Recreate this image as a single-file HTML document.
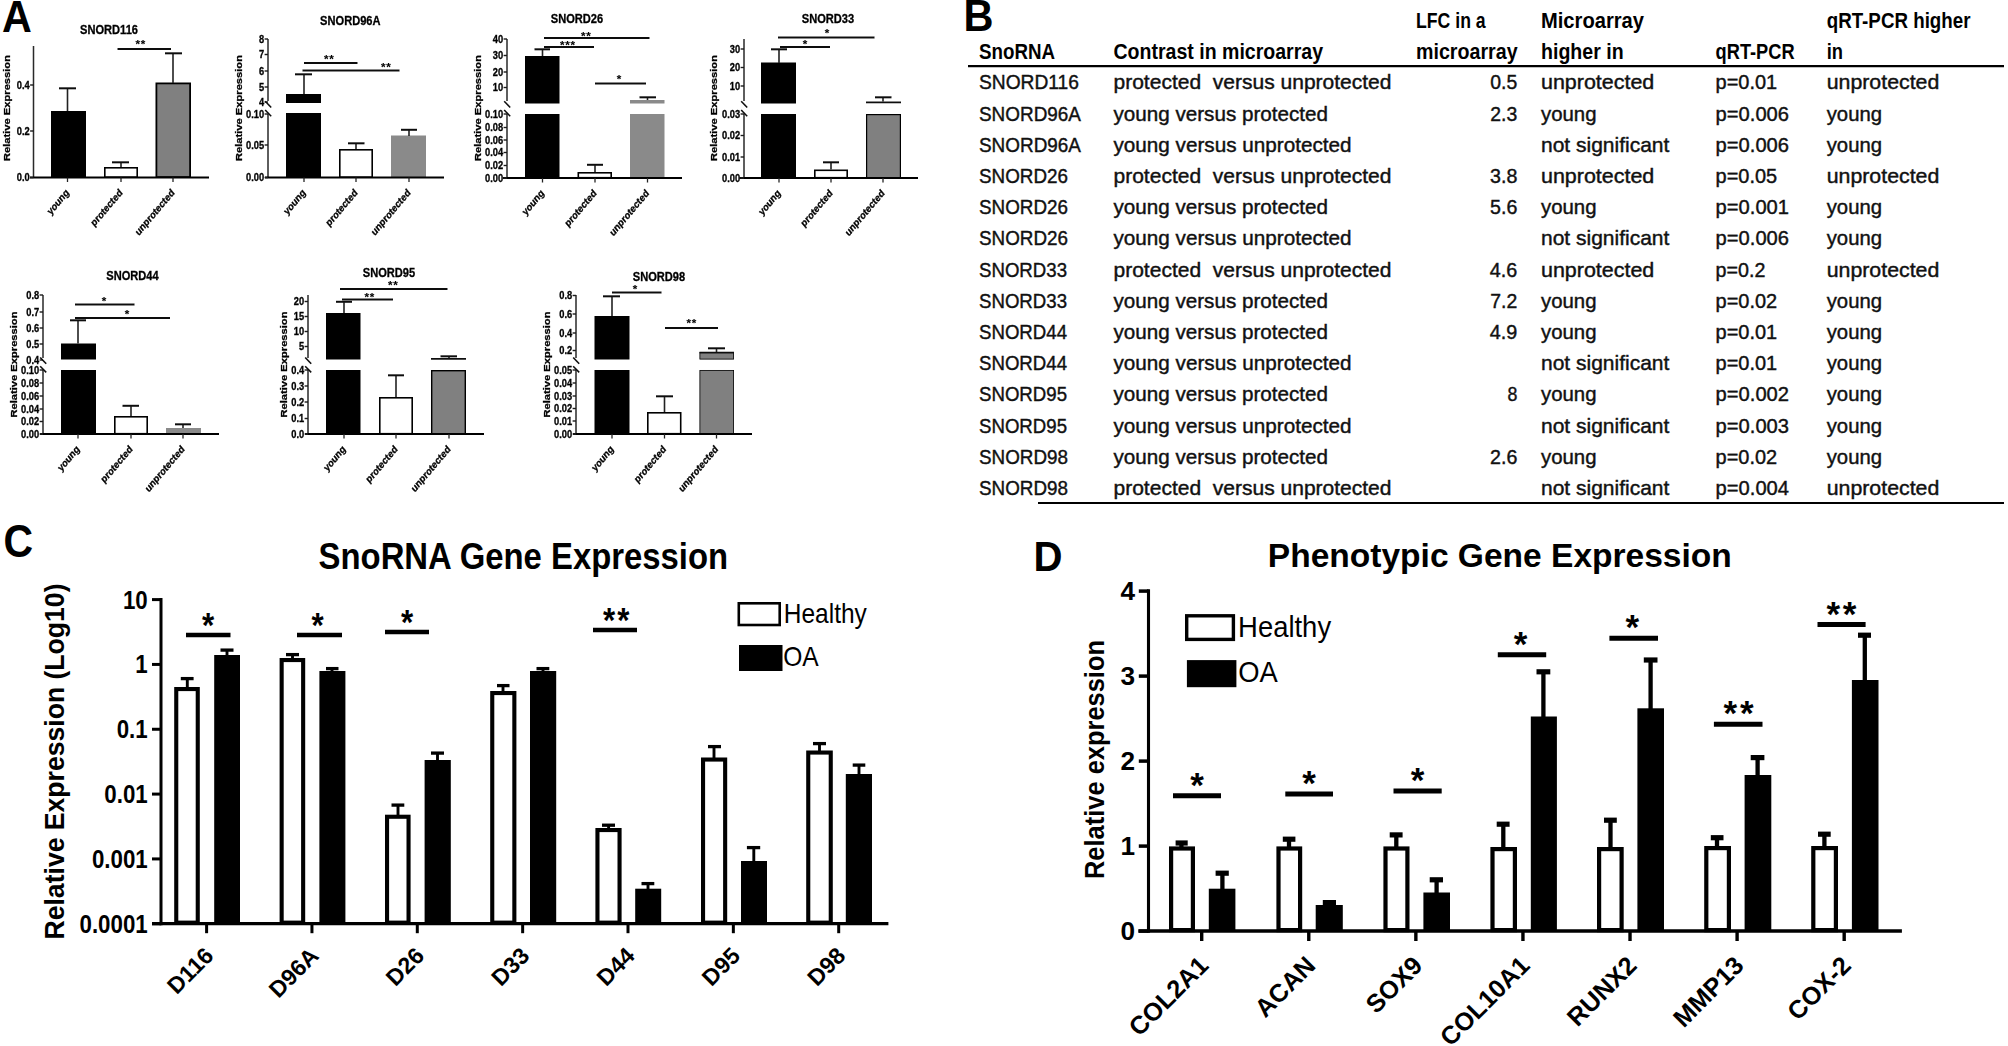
<!DOCTYPE html>
<html lang="en"><head><meta charset="utf-8"><title>SnoRNA figure</title>
<style>html,body{margin:0;padding:0;background:#fff}svg{display:block}text{font-family:"Liberation Sans",sans-serif}#panelA text{stroke:#000;stroke-width:.28px}</style></head><body>
<svg width="2008" height="1046" viewBox="0 0 2008 1046">
<rect width="2008" height="1046" fill="#fff"/>
<defs><filter id="blurA" x="0" y="0" width="960" height="520" filterUnits="userSpaceOnUse"><feGaussianBlur stdDeviation="0.45"/></filter></defs>
<text transform="translate(2.1,32) scale(0.95,1)" font-size="43.5" font-weight="bold">A</text>
<g id="panelA" filter="url(#blurA)">
<rect x="51" y="111" width="35" height="67" fill="#000"/>
<rect x="104.8" y="167.8" width="32.4" height="9.4" fill="#fff" stroke="#000" stroke-width="1.6"/>
<rect x="156.4" y="83.4" width="33.7" height="93.7" fill="#808080" stroke="#000" stroke-width="1.8"/>
<line x1="67.5" y1="88" x2="67.5" y2="111" stroke="#222" stroke-width="1.6"/>
<line x1="59" y1="88.3" x2="76" y2="88.3" stroke="#111" stroke-width="2"/>
<line x1="121" y1="162" x2="121" y2="167" stroke="#222" stroke-width="1.6"/>
<line x1="112" y1="162.3" x2="129" y2="162.3" stroke="#111" stroke-width="2"/>
<line x1="173" y1="53" x2="173" y2="83" stroke="#222" stroke-width="1.6"/>
<line x1="165" y1="53.3" x2="182" y2="53.3" stroke="#111" stroke-width="2"/>
<line x1="33.5" y1="46" x2="33.5" y2="177.5" stroke="#2a2a2a" stroke-width="1.5"/>
<line x1="30" y1="177.5" x2="209" y2="177.5" stroke="#000" stroke-width="1.9"/>
<line x1="30.1" y1="177.5" x2="33.5" y2="177.5" stroke="#1a1a1a" stroke-width="1.4"/>
<text transform="translate(29.7,181.4) scale(1,1.18)" font-size="9.3" text-anchor="end" font-weight="bold">0.0</text>
<line x1="30.1" y1="131" x2="33.5" y2="131" stroke="#1a1a1a" stroke-width="1.4"/>
<text transform="translate(29.7,134.9) scale(1,1.18)" font-size="9.3" text-anchor="end" font-weight="bold">0.2</text>
<line x1="30.1" y1="85" x2="33.5" y2="85" stroke="#1a1a1a" stroke-width="1.4"/>
<text transform="translate(29.7,88.9) scale(1,1.18)" font-size="9.3" text-anchor="end" font-weight="bold">0.4</text>
<line x1="67.5" y1="177.5" x2="67.5" y2="182" stroke="#222" stroke-width="1.3"/>
<text transform="translate(69.5,193.3) scale(1,1.18) rotate(-45)" font-size="8.9" text-anchor="end" font-weight="bold">young</text>
<line x1="121" y1="177.5" x2="121" y2="182" stroke="#222" stroke-width="1.3"/>
<text transform="translate(123,193.3) scale(1,1.18) rotate(-45)" font-size="8.9" text-anchor="end" font-weight="bold">protected</text>
<line x1="173" y1="177.5" x2="173" y2="182" stroke="#222" stroke-width="1.3"/>
<text transform="translate(175,193.3) scale(1,1.18) rotate(-45)" font-size="8.9" text-anchor="end" font-weight="bold">unprotected</text>
<line x1="117.5" y1="49" x2="171" y2="49" stroke="#111" stroke-width="2.1"/>
<text transform="translate(140.8,47.7)" font-size="11.6" text-anchor="middle" font-weight="bold" letter-spacing="0.7" style="stroke-width:.1px">**</text>
<text transform="translate(109,34) scale(1,1.18)" font-size="11.1" text-anchor="middle" font-weight="bold">SNORD116</text>
<text transform="translate(10.3,108) rotate(-90)" font-size="9.6" text-anchor="middle" textLength="106" lengthAdjust="spacingAndGlyphs" font-weight="bold">Relative Expression</text>
<rect x="286" y="94" width="35" height="9" fill="#000"/>
<rect x="286" y="113" width="35" height="65" fill="#000"/>
<rect x="339.8" y="149.8" width="32.4" height="27.4" fill="#fff" stroke="#000" stroke-width="1.6"/>
<rect x="391" y="135.5" width="35" height="42.5" fill="#8a8a8a"/>
<line x1="304" y1="74" x2="304" y2="94" stroke="#222" stroke-width="1.6"/>
<line x1="295" y1="74.3" x2="312" y2="74.3" stroke="#111" stroke-width="2"/>
<line x1="356" y1="143" x2="356" y2="149" stroke="#222" stroke-width="1.6"/>
<line x1="348" y1="143.3" x2="364.5" y2="143.3" stroke="#111" stroke-width="2"/>
<line x1="409" y1="129.5" x2="409" y2="136" stroke="#222" stroke-width="1.6"/>
<line x1="401" y1="129.8" x2="417" y2="129.8" stroke="#111" stroke-width="2"/>
<line x1="268" y1="39" x2="268" y2="101" stroke="#2a2a2a" stroke-width="1.5"/>
<line x1="268" y1="114" x2="268" y2="177.5" stroke="#2a2a2a" stroke-width="1.5"/>
<line x1="265" y1="177.5" x2="444" y2="177.5" stroke="#000" stroke-width="1.9"/>
<line x1="264.6" y1="39" x2="268" y2="39" stroke="#1a1a1a" stroke-width="1.4"/>
<text transform="translate(264.2,42.9) scale(1,1.18)" font-size="9.3" text-anchor="end" font-weight="bold">8</text>
<line x1="264.6" y1="54.5" x2="268" y2="54.5" stroke="#1a1a1a" stroke-width="1.4"/>
<text transform="translate(264.2,58.4) scale(1,1.18)" font-size="9.3" text-anchor="end" font-weight="bold">7</text>
<line x1="264.6" y1="71" x2="268" y2="71" stroke="#1a1a1a" stroke-width="1.4"/>
<text transform="translate(264.2,74.9) scale(1,1.18)" font-size="9.3" text-anchor="end" font-weight="bold">6</text>
<line x1="264.6" y1="87" x2="268" y2="87" stroke="#1a1a1a" stroke-width="1.4"/>
<text transform="translate(264.2,90.9) scale(1,1.18)" font-size="9.3" text-anchor="end" font-weight="bold">5</text>
<line x1="264.6" y1="102" x2="268" y2="102" stroke="#1a1a1a" stroke-width="1.4"/>
<text transform="translate(264.2,105.9) scale(1,1.18)" font-size="9.3" text-anchor="end" font-weight="bold">4</text>
<line x1="264.6" y1="114" x2="268" y2="114" stroke="#1a1a1a" stroke-width="1.4"/>
<text transform="translate(264.2,117.9) scale(1,1.18)" font-size="9.3" text-anchor="end" font-weight="bold">0.10</text>
<line x1="264.6" y1="145" x2="268" y2="145" stroke="#1a1a1a" stroke-width="1.4"/>
<text transform="translate(264.2,148.9) scale(1,1.18)" font-size="9.3" text-anchor="end" font-weight="bold">0.05</text>
<line x1="264.6" y1="177.5" x2="268" y2="177.5" stroke="#1a1a1a" stroke-width="1.4"/>
<text transform="translate(264.2,181.4) scale(1,1.18)" font-size="9.3" text-anchor="end" font-weight="bold">0.00</text>
<line x1="265.2" y1="101.3" x2="271.2" y2="107.5" stroke="#111" stroke-width="1.6"/>
<line x1="265.2" y1="110" x2="271.2" y2="116.2" stroke="#111" stroke-width="1.6"/>
<line x1="304" y1="177.5" x2="304" y2="182" stroke="#222" stroke-width="1.3"/>
<text transform="translate(306,193.3) scale(1,1.18) rotate(-45)" font-size="8.9" text-anchor="end" font-weight="bold">young</text>
<line x1="356" y1="177.5" x2="356" y2="182" stroke="#222" stroke-width="1.3"/>
<text transform="translate(358,193.3) scale(1,1.18) rotate(-45)" font-size="8.9" text-anchor="end" font-weight="bold">protected</text>
<line x1="409" y1="177.5" x2="409" y2="182" stroke="#222" stroke-width="1.3"/>
<text transform="translate(411,193.3) scale(1,1.18) rotate(-45)" font-size="8.9" text-anchor="end" font-weight="bold">unprotected</text>
<line x1="304" y1="63" x2="357.5" y2="63" stroke="#111" stroke-width="2.1"/>
<text transform="translate(329.3,63.2)" font-size="11.6" text-anchor="middle" font-weight="bold" letter-spacing="0.7" style="stroke-width:.1px">**</text>
<line x1="302.5" y1="70.5" x2="399.5" y2="70.5" stroke="#111" stroke-width="2.1"/>
<text transform="translate(386.3,70.7)" font-size="11.6" text-anchor="middle" font-weight="bold" letter-spacing="0.7" style="stroke-width:.1px">**</text>
<text transform="translate(350.3,24.8) scale(1,1.18)" font-size="11.1" text-anchor="middle" font-weight="bold">SNORD96A</text>
<text transform="translate(241.8,108) rotate(-90)" font-size="9.6" text-anchor="middle" textLength="106" lengthAdjust="spacingAndGlyphs" font-weight="bold">Relative Expression</text>
<rect x="525" y="56" width="34.5" height="47.5" fill="#000"/>
<rect x="525" y="114" width="34.5" height="64.5" fill="#000"/>
<rect x="578.3" y="172.8" width="32.9" height="4.9" fill="#fff" stroke="#000" stroke-width="1.6"/>
<rect x="630" y="100" width="34.5" height="3.5" fill="#8a8a8a"/>
<rect x="630" y="114" width="34.5" height="64.5" fill="#8a8a8a"/>
<line x1="542.5" y1="49" x2="542.5" y2="56" stroke="#222" stroke-width="1.6"/>
<line x1="534.5" y1="49.3" x2="550" y2="49.3" stroke="#111" stroke-width="2"/>
<line x1="595" y1="164.5" x2="595" y2="172" stroke="#222" stroke-width="1.6"/>
<line x1="587" y1="164.8" x2="603" y2="164.8" stroke="#111" stroke-width="2"/>
<line x1="647.5" y1="97" x2="647.5" y2="100" stroke="#222" stroke-width="1.6"/>
<line x1="639.5" y1="97.3" x2="656" y2="97.3" stroke="#111" stroke-width="2"/>
<line x1="507" y1="39" x2="507" y2="101" stroke="#2a2a2a" stroke-width="1.5"/>
<line x1="507" y1="114" x2="507" y2="178" stroke="#2a2a2a" stroke-width="1.5"/>
<line x1="503" y1="178" x2="682" y2="178" stroke="#000" stroke-width="1.9"/>
<line x1="503.6" y1="39" x2="507" y2="39" stroke="#1a1a1a" stroke-width="1.4"/>
<text transform="translate(503.2,42.9) scale(1,1.18)" font-size="9.3" text-anchor="end" font-weight="bold">40</text>
<line x1="503.6" y1="55.5" x2="507" y2="55.5" stroke="#1a1a1a" stroke-width="1.4"/>
<text transform="translate(503.2,59.4) scale(1,1.18)" font-size="9.3" text-anchor="end" font-weight="bold">30</text>
<line x1="503.6" y1="72" x2="507" y2="72" stroke="#1a1a1a" stroke-width="1.4"/>
<text transform="translate(503.2,75.9) scale(1,1.18)" font-size="9.3" text-anchor="end" font-weight="bold">20</text>
<line x1="503.6" y1="87.5" x2="507" y2="87.5" stroke="#1a1a1a" stroke-width="1.4"/>
<text transform="translate(503.2,91.4) scale(1,1.18)" font-size="9.3" text-anchor="end" font-weight="bold">10</text>
<line x1="503.6" y1="114" x2="507" y2="114" stroke="#1a1a1a" stroke-width="1.4"/>
<text transform="translate(503.2,117.9) scale(1,1.18)" font-size="9.3" text-anchor="end" font-weight="bold">0.10</text>
<line x1="503.6" y1="127.5" x2="507" y2="127.5" stroke="#1a1a1a" stroke-width="1.4"/>
<text transform="translate(503.2,131.4) scale(1,1.18)" font-size="9.3" text-anchor="end" font-weight="bold">0.08</text>
<line x1="503.6" y1="140" x2="507" y2="140" stroke="#1a1a1a" stroke-width="1.4"/>
<text transform="translate(503.2,143.9) scale(1,1.18)" font-size="9.3" text-anchor="end" font-weight="bold">0.06</text>
<line x1="503.6" y1="152.5" x2="507" y2="152.5" stroke="#1a1a1a" stroke-width="1.4"/>
<text transform="translate(503.2,156.4) scale(1,1.18)" font-size="9.3" text-anchor="end" font-weight="bold">0.04</text>
<line x1="503.6" y1="165.5" x2="507" y2="165.5" stroke="#1a1a1a" stroke-width="1.4"/>
<text transform="translate(503.2,169.4) scale(1,1.18)" font-size="9.3" text-anchor="end" font-weight="bold">0.02</text>
<line x1="503.6" y1="178" x2="507" y2="178" stroke="#1a1a1a" stroke-width="1.4"/>
<text transform="translate(503.2,181.9) scale(1,1.18)" font-size="9.3" text-anchor="end" font-weight="bold">0.00</text>
<line x1="504.2" y1="101.3" x2="510.2" y2="107.5" stroke="#111" stroke-width="1.6"/>
<line x1="504.2" y1="110" x2="510.2" y2="116.2" stroke="#111" stroke-width="1.6"/>
<line x1="542.5" y1="178" x2="542.5" y2="182.5" stroke="#222" stroke-width="1.3"/>
<text transform="translate(544.5,193.8) scale(1,1.18) rotate(-45)" font-size="8.9" text-anchor="end" font-weight="bold">young</text>
<line x1="595" y1="178" x2="595" y2="182.5" stroke="#222" stroke-width="1.3"/>
<text transform="translate(597,193.8) scale(1,1.18) rotate(-45)" font-size="8.9" text-anchor="end" font-weight="bold">protected</text>
<line x1="647.5" y1="178" x2="647.5" y2="182.5" stroke="#222" stroke-width="1.3"/>
<text transform="translate(649.5,193.8) scale(1,1.18) rotate(-45)" font-size="8.9" text-anchor="end" font-weight="bold">unprotected</text>
<line x1="544" y1="38" x2="649.5" y2="38" stroke="#111" stroke-width="2.1"/>
<text transform="translate(586.3,39.7)" font-size="11.6" text-anchor="middle" font-weight="bold" letter-spacing="0.7" style="stroke-width:.1px">**</text>
<line x1="544" y1="47" x2="594" y2="47" stroke="#111" stroke-width="2.1"/>
<text transform="translate(567.8,48.7)" font-size="11.6" text-anchor="middle" font-weight="bold" letter-spacing="0.7" style="stroke-width:.1px">***</text>
<line x1="595" y1="83.5" x2="646" y2="83.5" stroke="#111" stroke-width="2.1"/>
<text transform="translate(619,82.7)" font-size="11.6" text-anchor="middle" font-weight="bold" style="stroke-width:.1px">*</text>
<text transform="translate(577,23) scale(1,1.18)" font-size="11.1" text-anchor="middle" font-weight="bold">SNORD26</text>
<text transform="translate(480.8,108) rotate(-90)" font-size="9.6" text-anchor="middle" textLength="106" lengthAdjust="spacingAndGlyphs" font-weight="bold">Relative Expression</text>
<rect x="761" y="62.5" width="35" height="41" fill="#000"/>
<rect x="761" y="114" width="35" height="64.5" fill="#000"/>
<rect x="814.8" y="170.3" width="32.4" height="7.4" fill="#fff" stroke="#000" stroke-width="1.6"/>
<rect x="866.6" y="114.6" width="33.8" height="63.3" fill="#808080" stroke="#000" stroke-width="1.2"/>
<line x1="779" y1="49" x2="779" y2="63" stroke="#222" stroke-width="1.6"/>
<line x1="771" y1="49.3" x2="787" y2="49.3" stroke="#111" stroke-width="2"/>
<line x1="831" y1="162" x2="831" y2="169.5" stroke="#222" stroke-width="1.6"/>
<line x1="823" y1="162.3" x2="839" y2="162.3" stroke="#111" stroke-width="2"/>
<line x1="883" y1="97" x2="883" y2="101.5" stroke="#222" stroke-width="1.6"/>
<line x1="875" y1="97.3" x2="891.5" y2="97.3" stroke="#111" stroke-width="2"/>
<line x1="744" y1="39" x2="744" y2="101" stroke="#2a2a2a" stroke-width="1.5"/>
<line x1="744" y1="114" x2="744" y2="178" stroke="#2a2a2a" stroke-width="1.5"/>
<line x1="739.5" y1="178" x2="918" y2="178" stroke="#000" stroke-width="1.9"/>
<line x1="740.6" y1="49" x2="744" y2="49" stroke="#1a1a1a" stroke-width="1.4"/>
<text transform="translate(740.2,52.9) scale(1,1.18)" font-size="9.3" text-anchor="end" font-weight="bold">30</text>
<line x1="740.6" y1="67.5" x2="744" y2="67.5" stroke="#1a1a1a" stroke-width="1.4"/>
<text transform="translate(740.2,71.4) scale(1,1.18)" font-size="9.3" text-anchor="end" font-weight="bold">20</text>
<line x1="740.6" y1="86" x2="744" y2="86" stroke="#1a1a1a" stroke-width="1.4"/>
<text transform="translate(740.2,89.9) scale(1,1.18)" font-size="9.3" text-anchor="end" font-weight="bold">10</text>
<line x1="740.6" y1="114" x2="744" y2="114" stroke="#1a1a1a" stroke-width="1.4"/>
<text transform="translate(740.2,117.9) scale(1,1.18)" font-size="9.3" text-anchor="end" font-weight="bold">0.03</text>
<line x1="740.6" y1="135.5" x2="744" y2="135.5" stroke="#1a1a1a" stroke-width="1.4"/>
<text transform="translate(740.2,139.4) scale(1,1.18)" font-size="9.3" text-anchor="end" font-weight="bold">0.02</text>
<line x1="740.6" y1="157" x2="744" y2="157" stroke="#1a1a1a" stroke-width="1.4"/>
<text transform="translate(740.2,160.9) scale(1,1.18)" font-size="9.3" text-anchor="end" font-weight="bold">0.01</text>
<line x1="740.6" y1="178" x2="744" y2="178" stroke="#1a1a1a" stroke-width="1.4"/>
<text transform="translate(740.2,181.9) scale(1,1.18)" font-size="9.3" text-anchor="end" font-weight="bold">0.00</text>
<line x1="741.2" y1="101.3" x2="747.2" y2="107.5" stroke="#111" stroke-width="1.6"/>
<line x1="741.2" y1="110" x2="747.2" y2="116.2" stroke="#111" stroke-width="1.6"/>
<line x1="779" y1="178" x2="779" y2="182.5" stroke="#222" stroke-width="1.3"/>
<text transform="translate(781,193.8) scale(1,1.18) rotate(-45)" font-size="8.9" text-anchor="end" font-weight="bold">young</text>
<line x1="831" y1="178" x2="831" y2="182.5" stroke="#222" stroke-width="1.3"/>
<text transform="translate(833,193.8) scale(1,1.18) rotate(-45)" font-size="8.9" text-anchor="end" font-weight="bold">protected</text>
<line x1="883" y1="178" x2="883" y2="182.5" stroke="#222" stroke-width="1.3"/>
<text transform="translate(885,193.8) scale(1,1.18) rotate(-45)" font-size="8.9" text-anchor="end" font-weight="bold">unprotected</text>
<line x1="778" y1="37.5" x2="874.5" y2="37.5" stroke="#111" stroke-width="2.1"/>
<text transform="translate(827,36.7)" font-size="11.6" text-anchor="middle" font-weight="bold" style="stroke-width:.1px">*</text>
<line x1="780" y1="47" x2="830" y2="47" stroke="#111" stroke-width="2.1"/>
<text transform="translate(805,47.7)" font-size="11.6" text-anchor="middle" font-weight="bold" style="stroke-width:.1px">*</text>
<text transform="translate(828,23) scale(1,1.18)" font-size="11.1" text-anchor="middle" font-weight="bold">SNORD33</text>
<text transform="translate(716.8,108) rotate(-90)" font-size="9.6" text-anchor="middle" textLength="106" lengthAdjust="spacingAndGlyphs" font-weight="bold">Relative Expression</text>
<rect x="61" y="343.5" width="35" height="16" fill="#000"/>
<rect x="61" y="370" width="35" height="64.5" fill="#000"/>
<rect x="114.8" y="416.8" width="32.4" height="16.9" fill="#fff" stroke="#000" stroke-width="1.6"/>
<rect x="166" y="428" width="35" height="6.5" fill="#8a8a8a"/>
<line x1="78" y1="320" x2="78" y2="343.5" stroke="#222" stroke-width="1.6"/>
<line x1="70" y1="320.3" x2="86" y2="320.3" stroke="#111" stroke-width="2"/>
<line x1="131" y1="405.5" x2="131" y2="416" stroke="#222" stroke-width="1.6"/>
<line x1="122.5" y1="405.8" x2="139" y2="405.8" stroke="#111" stroke-width="2"/>
<line x1="183" y1="424" x2="183" y2="428" stroke="#222" stroke-width="1.6"/>
<line x1="175" y1="424.3" x2="191" y2="424.3" stroke="#111" stroke-width="2"/>
<line x1="43" y1="295" x2="43" y2="358" stroke="#2a2a2a" stroke-width="1.5"/>
<line x1="43" y1="370" x2="43" y2="434" stroke="#2a2a2a" stroke-width="1.5"/>
<line x1="40" y1="434" x2="219" y2="434" stroke="#000" stroke-width="1.9"/>
<line x1="39.6" y1="295" x2="43" y2="295" stroke="#1a1a1a" stroke-width="1.4"/>
<text transform="translate(39.2,298.9) scale(1,1.18)" font-size="9.3" text-anchor="end" font-weight="bold">0.8</text>
<line x1="39.6" y1="312" x2="43" y2="312" stroke="#1a1a1a" stroke-width="1.4"/>
<text transform="translate(39.2,315.9) scale(1,1.18)" font-size="9.3" text-anchor="end" font-weight="bold">0.7</text>
<line x1="39.6" y1="328" x2="43" y2="328" stroke="#1a1a1a" stroke-width="1.4"/>
<text transform="translate(39.2,331.9) scale(1,1.18)" font-size="9.3" text-anchor="end" font-weight="bold">0.6</text>
<line x1="39.6" y1="344" x2="43" y2="344" stroke="#1a1a1a" stroke-width="1.4"/>
<text transform="translate(39.2,347.9) scale(1,1.18)" font-size="9.3" text-anchor="end" font-weight="bold">0.5</text>
<line x1="39.6" y1="360" x2="43" y2="360" stroke="#1a1a1a" stroke-width="1.4"/>
<text transform="translate(39.2,363.9) scale(1,1.18)" font-size="9.3" text-anchor="end" font-weight="bold">0.4</text>
<line x1="39.6" y1="370" x2="43" y2="370" stroke="#1a1a1a" stroke-width="1.4"/>
<text transform="translate(39.2,373.9) scale(1,1.18)" font-size="9.3" text-anchor="end" font-weight="bold">0.10</text>
<line x1="39.6" y1="383" x2="43" y2="383" stroke="#1a1a1a" stroke-width="1.4"/>
<text transform="translate(39.2,386.9) scale(1,1.18)" font-size="9.3" text-anchor="end" font-weight="bold">0.08</text>
<line x1="39.6" y1="396" x2="43" y2="396" stroke="#1a1a1a" stroke-width="1.4"/>
<text transform="translate(39.2,399.9) scale(1,1.18)" font-size="9.3" text-anchor="end" font-weight="bold">0.06</text>
<line x1="39.6" y1="409" x2="43" y2="409" stroke="#1a1a1a" stroke-width="1.4"/>
<text transform="translate(39.2,412.9) scale(1,1.18)" font-size="9.3" text-anchor="end" font-weight="bold">0.04</text>
<line x1="39.6" y1="421.5" x2="43" y2="421.5" stroke="#1a1a1a" stroke-width="1.4"/>
<text transform="translate(39.2,425.4) scale(1,1.18)" font-size="9.3" text-anchor="end" font-weight="bold">0.02</text>
<line x1="39.6" y1="434" x2="43" y2="434" stroke="#1a1a1a" stroke-width="1.4"/>
<text transform="translate(39.2,437.9) scale(1,1.18)" font-size="9.3" text-anchor="end" font-weight="bold">0.00</text>
<line x1="40.2" y1="357.5" x2="46.2" y2="363.7" stroke="#111" stroke-width="1.6"/>
<line x1="40.2" y1="366.2" x2="46.2" y2="372.4" stroke="#111" stroke-width="1.6"/>
<line x1="78" y1="434" x2="78" y2="438.5" stroke="#222" stroke-width="1.3"/>
<text transform="translate(80,449.8) scale(1,1.18) rotate(-45)" font-size="8.9" text-anchor="end" font-weight="bold">young</text>
<line x1="131" y1="434" x2="131" y2="438.5" stroke="#222" stroke-width="1.3"/>
<text transform="translate(133,449.8) scale(1,1.18) rotate(-45)" font-size="8.9" text-anchor="end" font-weight="bold">protected</text>
<line x1="183" y1="434" x2="183" y2="438.5" stroke="#222" stroke-width="1.3"/>
<text transform="translate(185,449.8) scale(1,1.18) rotate(-45)" font-size="8.9" text-anchor="end" font-weight="bold">unprotected</text>
<line x1="75" y1="304.5" x2="134.5" y2="304.5" stroke="#111" stroke-width="2.1"/>
<text transform="translate(104,304.7)" font-size="11.6" text-anchor="middle" font-weight="bold" style="stroke-width:.1px">*</text>
<line x1="75" y1="318" x2="170" y2="318" stroke="#111" stroke-width="2.1"/>
<text transform="translate(127,317.7)" font-size="11.6" text-anchor="middle" font-weight="bold" style="stroke-width:.1px">*</text>
<text transform="translate(132.5,279.7) scale(1,1.18)" font-size="11.1" text-anchor="middle" font-weight="bold">SNORD44</text>
<text transform="translate(16.8,364.5) rotate(-90)" font-size="9.6" text-anchor="middle" textLength="106" lengthAdjust="spacingAndGlyphs" font-weight="bold">Relative Expression</text>
<rect x="326" y="313" width="34.5" height="46.5" fill="#000"/>
<rect x="326" y="370" width="34.5" height="64.5" fill="#000"/>
<rect x="379.8" y="397.8" width="32.4" height="35.9" fill="#fff" stroke="#000" stroke-width="1.6"/>
<rect x="431.7" y="370.7" width="33.6" height="63.1" fill="#808080" stroke="#000" stroke-width="1.4"/>
<line x1="344" y1="301.5" x2="344" y2="313" stroke="#222" stroke-width="1.6"/>
<line x1="336" y1="301.8" x2="352" y2="301.8" stroke="#111" stroke-width="2"/>
<line x1="396" y1="375" x2="396" y2="397" stroke="#222" stroke-width="1.6"/>
<line x1="388" y1="375.3" x2="404" y2="375.3" stroke="#111" stroke-width="2"/>
<line x1="449" y1="356" x2="449" y2="359" stroke="#222" stroke-width="1.6"/>
<line x1="440.5" y1="356.3" x2="457" y2="356.3" stroke="#111" stroke-width="2"/>
<line x1="308" y1="295" x2="308" y2="358" stroke="#2a2a2a" stroke-width="1.5"/>
<line x1="308" y1="370" x2="308" y2="434" stroke="#2a2a2a" stroke-width="1.5"/>
<line x1="305" y1="434" x2="484" y2="434" stroke="#000" stroke-width="1.9"/>
<line x1="304.6" y1="301.5" x2="308" y2="301.5" stroke="#1a1a1a" stroke-width="1.4"/>
<text transform="translate(304.2,305.4) scale(1,1.18)" font-size="9.3" text-anchor="end" font-weight="bold">20</text>
<line x1="304.6" y1="316.5" x2="308" y2="316.5" stroke="#1a1a1a" stroke-width="1.4"/>
<text transform="translate(304.2,320.4) scale(1,1.18)" font-size="9.3" text-anchor="end" font-weight="bold">15</text>
<line x1="304.6" y1="331.5" x2="308" y2="331.5" stroke="#1a1a1a" stroke-width="1.4"/>
<text transform="translate(304.2,335.4) scale(1,1.18)" font-size="9.3" text-anchor="end" font-weight="bold">10</text>
<line x1="304.6" y1="346.5" x2="308" y2="346.5" stroke="#1a1a1a" stroke-width="1.4"/>
<text transform="translate(304.2,350.4) scale(1,1.18)" font-size="9.3" text-anchor="end" font-weight="bold">5</text>
<line x1="304.6" y1="370" x2="308" y2="370" stroke="#1a1a1a" stroke-width="1.4"/>
<text transform="translate(304.2,373.9) scale(1,1.18)" font-size="9.3" text-anchor="end" font-weight="bold">0.4</text>
<line x1="304.6" y1="386" x2="308" y2="386" stroke="#1a1a1a" stroke-width="1.4"/>
<text transform="translate(304.2,389.9) scale(1,1.18)" font-size="9.3" text-anchor="end" font-weight="bold">0.3</text>
<line x1="304.6" y1="402" x2="308" y2="402" stroke="#1a1a1a" stroke-width="1.4"/>
<text transform="translate(304.2,405.9) scale(1,1.18)" font-size="9.3" text-anchor="end" font-weight="bold">0.2</text>
<line x1="304.6" y1="418.5" x2="308" y2="418.5" stroke="#1a1a1a" stroke-width="1.4"/>
<text transform="translate(304.2,422.4) scale(1,1.18)" font-size="9.3" text-anchor="end" font-weight="bold">0.1</text>
<line x1="304.6" y1="434" x2="308" y2="434" stroke="#1a1a1a" stroke-width="1.4"/>
<text transform="translate(304.2,437.9) scale(1,1.18)" font-size="9.3" text-anchor="end" font-weight="bold">0.0</text>
<line x1="305.2" y1="357.5" x2="311.2" y2="363.7" stroke="#111" stroke-width="1.6"/>
<line x1="305.2" y1="366.2" x2="311.2" y2="372.4" stroke="#111" stroke-width="1.6"/>
<line x1="344" y1="434" x2="344" y2="438.5" stroke="#222" stroke-width="1.3"/>
<text transform="translate(346,449.8) scale(1,1.18) rotate(-45)" font-size="8.9" text-anchor="end" font-weight="bold">young</text>
<line x1="396" y1="434" x2="396" y2="438.5" stroke="#222" stroke-width="1.3"/>
<text transform="translate(398,449.8) scale(1,1.18) rotate(-45)" font-size="8.9" text-anchor="end" font-weight="bold">protected</text>
<line x1="449" y1="434" x2="449" y2="438.5" stroke="#222" stroke-width="1.3"/>
<text transform="translate(451,449.8) scale(1,1.18) rotate(-45)" font-size="8.9" text-anchor="end" font-weight="bold">unprotected</text>
<line x1="340" y1="289" x2="447.5" y2="289" stroke="#111" stroke-width="2.1"/>
<text transform="translate(393.3,288.7)" font-size="11.6" text-anchor="middle" font-weight="bold" letter-spacing="0.7" style="stroke-width:.1px">**</text>
<line x1="342" y1="299.5" x2="393" y2="299.5" stroke="#111" stroke-width="2.1"/>
<text transform="translate(369.8,301.2)" font-size="11.6" text-anchor="middle" font-weight="bold" letter-spacing="0.7" style="stroke-width:.1px">**</text>
<text transform="translate(389,276.5) scale(1,1.18)" font-size="11.1" text-anchor="middle" font-weight="bold">SNORD95</text>
<text transform="translate(286.8,364.5) rotate(-90)" font-size="9.6" text-anchor="middle" textLength="106" lengthAdjust="spacingAndGlyphs" font-weight="bold">Relative Expression</text>
<rect x="594.5" y="316" width="35" height="43.5" fill="#000"/>
<rect x="594.5" y="370" width="35" height="64.5" fill="#000"/>
<rect x="647.8" y="412.8" width="32.9" height="20.9" fill="#fff" stroke="#000" stroke-width="1.6"/>
<rect x="699.9" y="352.4" width="33.7" height="6.7" fill="#808080" stroke="#000" stroke-width="0.8"/>
<rect x="699.9" y="370.4" width="33.7" height="63.7" fill="#808080" stroke="#000" stroke-width="0.8"/>
<line x1="612" y1="296" x2="612" y2="316" stroke="#222" stroke-width="1.6"/>
<line x1="603" y1="296.3" x2="620" y2="296.3" stroke="#111" stroke-width="2"/>
<line x1="664.5" y1="396" x2="664.5" y2="412" stroke="#222" stroke-width="1.6"/>
<line x1="656" y1="396.3" x2="673" y2="396.3" stroke="#111" stroke-width="2"/>
<line x1="716.5" y1="348" x2="716.5" y2="352" stroke="#222" stroke-width="1.6"/>
<line x1="708" y1="348.3" x2="725" y2="348.3" stroke="#111" stroke-width="2"/>
<line x1="576" y1="295" x2="576" y2="358" stroke="#2a2a2a" stroke-width="1.5"/>
<line x1="576" y1="370" x2="576" y2="434" stroke="#2a2a2a" stroke-width="1.5"/>
<line x1="573" y1="434" x2="752" y2="434" stroke="#000" stroke-width="1.9"/>
<line x1="572.6" y1="295.5" x2="576" y2="295.5" stroke="#1a1a1a" stroke-width="1.4"/>
<text transform="translate(572.2,299.4) scale(1,1.18)" font-size="9.3" text-anchor="end" font-weight="bold">0.8</text>
<line x1="572.6" y1="314" x2="576" y2="314" stroke="#1a1a1a" stroke-width="1.4"/>
<text transform="translate(572.2,317.9) scale(1,1.18)" font-size="9.3" text-anchor="end" font-weight="bold">0.6</text>
<line x1="572.6" y1="333" x2="576" y2="333" stroke="#1a1a1a" stroke-width="1.4"/>
<text transform="translate(572.2,336.9) scale(1,1.18)" font-size="9.3" text-anchor="end" font-weight="bold">0.4</text>
<line x1="572.6" y1="350.5" x2="576" y2="350.5" stroke="#1a1a1a" stroke-width="1.4"/>
<text transform="translate(572.2,354.4) scale(1,1.18)" font-size="9.3" text-anchor="end" font-weight="bold">0.2</text>
<line x1="572.6" y1="370" x2="576" y2="370" stroke="#1a1a1a" stroke-width="1.4"/>
<text transform="translate(572.2,373.9) scale(1,1.18)" font-size="9.3" text-anchor="end" font-weight="bold">0.05</text>
<line x1="572.6" y1="383" x2="576" y2="383" stroke="#1a1a1a" stroke-width="1.4"/>
<text transform="translate(572.2,386.9) scale(1,1.18)" font-size="9.3" text-anchor="end" font-weight="bold">0.04</text>
<line x1="572.6" y1="396" x2="576" y2="396" stroke="#1a1a1a" stroke-width="1.4"/>
<text transform="translate(572.2,399.9) scale(1,1.18)" font-size="9.3" text-anchor="end" font-weight="bold">0.03</text>
<line x1="572.6" y1="408.5" x2="576" y2="408.5" stroke="#1a1a1a" stroke-width="1.4"/>
<text transform="translate(572.2,412.4) scale(1,1.18)" font-size="9.3" text-anchor="end" font-weight="bold">0.02</text>
<line x1="572.6" y1="421" x2="576" y2="421" stroke="#1a1a1a" stroke-width="1.4"/>
<text transform="translate(572.2,424.9) scale(1,1.18)" font-size="9.3" text-anchor="end" font-weight="bold">0.01</text>
<line x1="572.6" y1="434" x2="576" y2="434" stroke="#1a1a1a" stroke-width="1.4"/>
<text transform="translate(572.2,437.9) scale(1,1.18)" font-size="9.3" text-anchor="end" font-weight="bold">0.00</text>
<line x1="573.2" y1="357.5" x2="579.2" y2="363.7" stroke="#111" stroke-width="1.6"/>
<line x1="573.2" y1="366.2" x2="579.2" y2="372.4" stroke="#111" stroke-width="1.6"/>
<line x1="612" y1="434" x2="612" y2="438.5" stroke="#222" stroke-width="1.3"/>
<text transform="translate(614,449.8) scale(1,1.18) rotate(-45)" font-size="8.9" text-anchor="end" font-weight="bold">young</text>
<line x1="664.5" y1="434" x2="664.5" y2="438.5" stroke="#222" stroke-width="1.3"/>
<text transform="translate(666.5,449.8) scale(1,1.18) rotate(-45)" font-size="8.9" text-anchor="end" font-weight="bold">protected</text>
<line x1="716.5" y1="434" x2="716.5" y2="438.5" stroke="#222" stroke-width="1.3"/>
<text transform="translate(718.5,449.8) scale(1,1.18) rotate(-45)" font-size="8.9" text-anchor="end" font-weight="bold">unprotected</text>
<line x1="612" y1="292.5" x2="661.5" y2="292.5" stroke="#111" stroke-width="2.1"/>
<text transform="translate(635,292.7)" font-size="11.6" text-anchor="middle" font-weight="bold" style="stroke-width:.1px">*</text>
<line x1="665" y1="328" x2="718" y2="328" stroke="#111" stroke-width="2.1"/>
<text transform="translate(691.8,326.7)" font-size="11.6" text-anchor="middle" font-weight="bold" letter-spacing="0.7" style="stroke-width:.1px">**</text>
<text transform="translate(659,280.6) scale(1,1.18)" font-size="11.1" text-anchor="middle" font-weight="bold">SNORD98</text>
<text transform="translate(549.8,364.5) rotate(-90)" font-size="9.6" text-anchor="middle" textLength="106" lengthAdjust="spacingAndGlyphs" font-weight="bold">Relative Expression</text>
<line x1="866" y1="102.3" x2="901" y2="102.3" stroke="#111" stroke-width="1.8"/>
<line x1="431" y1="358.8" x2="466" y2="358.8" stroke="#111" stroke-width="1.8"/>
<line x1="699.5" y1="352.6" x2="734" y2="352.6" stroke="#111" stroke-width="1.6"/>
</g>
<g id="panelB">
<text transform="translate(963.4,31.4) scale(0.955,1)" font-size="43.5" font-weight="bold">B</text>
<text transform="translate(979,58.6)" font-size="22.3" textLength="76" lengthAdjust="spacingAndGlyphs" font-weight="bold">SnoRNA</text>
<text transform="translate(1113.5,58.6)" font-size="22.3" textLength="209.5" lengthAdjust="spacingAndGlyphs" font-weight="bold">Contrast in microarray</text>
<text transform="translate(1416,27.6)" font-size="22.3" textLength="69.7" lengthAdjust="spacingAndGlyphs" font-weight="bold">LFC in a</text>
<text transform="translate(1416,58.6)" font-size="22.3" textLength="101.6" lengthAdjust="spacingAndGlyphs" font-weight="bold">microarray</text>
<text transform="translate(1541,27.6)" font-size="22.3" textLength="103" lengthAdjust="spacingAndGlyphs" font-weight="bold">Microarray</text>
<text transform="translate(1541,58.6)" font-size="22.3" textLength="82.6" lengthAdjust="spacingAndGlyphs" font-weight="bold">higher in</text>
<text transform="translate(1715.6,58.6)" font-size="22.3" textLength="79" lengthAdjust="spacingAndGlyphs" font-weight="bold">qRT-PCR</text>
<text transform="translate(1826.7,27.6)" font-size="22.3" textLength="143.8" lengthAdjust="spacingAndGlyphs" font-weight="bold">qRT-PCR higher</text>
<text transform="translate(1826.7,58.6)" font-size="22.3" textLength="16.3" lengthAdjust="spacingAndGlyphs" font-weight="bold">in</text>
<line x1="968" y1="66.1" x2="2004" y2="66.1" stroke="#000" stroke-width="2.3"/>
<line x1="1038" y1="503" x2="2004" y2="503" stroke="#000" stroke-width="2"/>
<text transform="translate(979,89.4)" font-size="20.7" textLength="100" lengthAdjust="spacingAndGlyphs" fill="#111" stroke="#111" stroke-width="0.42">SNORD116</text>
<text transform="translate(1113.5,89.4)" font-size="20.7" textLength="278" lengthAdjust="spacingAndGlyphs" fill="#111" stroke="#111" stroke-width="0.42" xml:space="preserve">protected  versus unprotected</text>
<text transform="translate(1517.3,89.4)" font-size="20.7" text-anchor="end" textLength="27" lengthAdjust="spacingAndGlyphs" fill="#111" stroke="#111" stroke-width="0.42">0.5</text>
<text transform="translate(1541,89.4)" font-size="20.7" textLength="113.3" lengthAdjust="spacingAndGlyphs" fill="#111" stroke="#111" stroke-width="0.42">unprotected</text>
<text transform="translate(1715.6,89.4)" font-size="20.7" textLength="61.6" lengthAdjust="spacingAndGlyphs" fill="#111" stroke="#111" stroke-width="0.42">p=0.01</text>
<text transform="translate(1826.7,89.4)" font-size="20.7" textLength="112.6" lengthAdjust="spacingAndGlyphs" fill="#111" stroke="#111" stroke-width="0.42">unprotected</text>
<text transform="translate(979,120.6)" font-size="20.7" textLength="102" lengthAdjust="spacingAndGlyphs" fill="#111" stroke="#111" stroke-width="0.42">SNORD96A</text>
<text transform="translate(1113.5,120.6)" font-size="20.7" textLength="214.5" lengthAdjust="spacingAndGlyphs" fill="#111" stroke="#111" stroke-width="0.42">young versus protected</text>
<text transform="translate(1517.3,120.6)" font-size="20.7" text-anchor="end" textLength="27" lengthAdjust="spacingAndGlyphs" fill="#111" stroke="#111" stroke-width="0.42">2.3</text>
<text transform="translate(1541,120.6)" font-size="20.7" textLength="55.5" lengthAdjust="spacingAndGlyphs" fill="#111" stroke="#111" stroke-width="0.42">young</text>
<text transform="translate(1715.6,120.6)" font-size="20.7" textLength="73.4" lengthAdjust="spacingAndGlyphs" fill="#111" stroke="#111" stroke-width="0.42">p=0.006</text>
<text transform="translate(1826.7,120.6)" font-size="20.7" textLength="55.3" lengthAdjust="spacingAndGlyphs" fill="#111" stroke="#111" stroke-width="0.42">young</text>
<text transform="translate(979,151.8)" font-size="20.7" textLength="102" lengthAdjust="spacingAndGlyphs" fill="#111" stroke="#111" stroke-width="0.42">SNORD96A</text>
<text transform="translate(1113.5,151.8)" font-size="20.7" textLength="238" lengthAdjust="spacingAndGlyphs" fill="#111" stroke="#111" stroke-width="0.42">young versus unprotected</text>
<text transform="translate(1541,151.8)" font-size="20.7" textLength="128.3" lengthAdjust="spacingAndGlyphs" fill="#111" stroke="#111" stroke-width="0.42">not significant</text>
<text transform="translate(1715.6,151.8)" font-size="20.7" textLength="73.4" lengthAdjust="spacingAndGlyphs" fill="#111" stroke="#111" stroke-width="0.42">p=0.006</text>
<text transform="translate(1826.7,151.8)" font-size="20.7" textLength="55.3" lengthAdjust="spacingAndGlyphs" fill="#111" stroke="#111" stroke-width="0.42">young</text>
<text transform="translate(979,183)" font-size="20.7" textLength="89" lengthAdjust="spacingAndGlyphs" fill="#111" stroke="#111" stroke-width="0.42">SNORD26</text>
<text transform="translate(1113.5,183)" font-size="20.7" textLength="278" lengthAdjust="spacingAndGlyphs" fill="#111" stroke="#111" stroke-width="0.42" xml:space="preserve">protected  versus unprotected</text>
<text transform="translate(1517.3,183)" font-size="20.7" text-anchor="end" textLength="27.3" lengthAdjust="spacingAndGlyphs" fill="#111" stroke="#111" stroke-width="0.42">3.8</text>
<text transform="translate(1541,183)" font-size="20.7" textLength="113.3" lengthAdjust="spacingAndGlyphs" fill="#111" stroke="#111" stroke-width="0.42">unprotected</text>
<text transform="translate(1715.6,183)" font-size="20.7" textLength="61.6" lengthAdjust="spacingAndGlyphs" fill="#111" stroke="#111" stroke-width="0.42">p=0.05</text>
<text transform="translate(1826.7,183)" font-size="20.7" textLength="112.6" lengthAdjust="spacingAndGlyphs" fill="#111" stroke="#111" stroke-width="0.42">unprotected</text>
<text transform="translate(979,214.2)" font-size="20.7" textLength="89" lengthAdjust="spacingAndGlyphs" fill="#111" stroke="#111" stroke-width="0.42">SNORD26</text>
<text transform="translate(1113.5,214.2)" font-size="20.7" textLength="214.5" lengthAdjust="spacingAndGlyphs" fill="#111" stroke="#111" stroke-width="0.42">young versus protected</text>
<text transform="translate(1517.3,214.2)" font-size="20.7" text-anchor="end" textLength="27.3" lengthAdjust="spacingAndGlyphs" fill="#111" stroke="#111" stroke-width="0.42">5.6</text>
<text transform="translate(1541,214.2)" font-size="20.7" textLength="55.5" lengthAdjust="spacingAndGlyphs" fill="#111" stroke="#111" stroke-width="0.42">young</text>
<text transform="translate(1715.6,214.2)" font-size="20.7" textLength="73.4" lengthAdjust="spacingAndGlyphs" fill="#111" stroke="#111" stroke-width="0.42">p=0.001</text>
<text transform="translate(1826.7,214.2)" font-size="20.7" textLength="55.3" lengthAdjust="spacingAndGlyphs" fill="#111" stroke="#111" stroke-width="0.42">young</text>
<text transform="translate(979,245.4)" font-size="20.7" textLength="89" lengthAdjust="spacingAndGlyphs" fill="#111" stroke="#111" stroke-width="0.42">SNORD26</text>
<text transform="translate(1113.5,245.4)" font-size="20.7" textLength="238" lengthAdjust="spacingAndGlyphs" fill="#111" stroke="#111" stroke-width="0.42">young versus unprotected</text>
<text transform="translate(1541,245.4)" font-size="20.7" textLength="128.3" lengthAdjust="spacingAndGlyphs" fill="#111" stroke="#111" stroke-width="0.42">not significant</text>
<text transform="translate(1715.6,245.4)" font-size="20.7" textLength="73.4" lengthAdjust="spacingAndGlyphs" fill="#111" stroke="#111" stroke-width="0.42">p=0.006</text>
<text transform="translate(1826.7,245.4)" font-size="20.7" textLength="55.3" lengthAdjust="spacingAndGlyphs" fill="#111" stroke="#111" stroke-width="0.42">young</text>
<text transform="translate(979,276.6)" font-size="20.7" textLength="88" lengthAdjust="spacingAndGlyphs" fill="#111" stroke="#111" stroke-width="0.42">SNORD33</text>
<text transform="translate(1113.5,276.6)" font-size="20.7" textLength="278" lengthAdjust="spacingAndGlyphs" fill="#111" stroke="#111" stroke-width="0.42" xml:space="preserve">protected  versus unprotected</text>
<text transform="translate(1517.3,276.6)" font-size="20.7" text-anchor="end" textLength="27.5" lengthAdjust="spacingAndGlyphs" fill="#111" stroke="#111" stroke-width="0.42">4.6</text>
<text transform="translate(1541,276.6)" font-size="20.7" textLength="113.3" lengthAdjust="spacingAndGlyphs" fill="#111" stroke="#111" stroke-width="0.42">unprotected</text>
<text transform="translate(1715.6,276.6)" font-size="20.7" textLength="49.8" lengthAdjust="spacingAndGlyphs" fill="#111" stroke="#111" stroke-width="0.42">p=0.2</text>
<text transform="translate(1826.7,276.6)" font-size="20.7" textLength="112.6" lengthAdjust="spacingAndGlyphs" fill="#111" stroke="#111" stroke-width="0.42">unprotected</text>
<text transform="translate(979,307.8)" font-size="20.7" textLength="88" lengthAdjust="spacingAndGlyphs" fill="#111" stroke="#111" stroke-width="0.42">SNORD33</text>
<text transform="translate(1113.5,307.8)" font-size="20.7" textLength="214.5" lengthAdjust="spacingAndGlyphs" fill="#111" stroke="#111" stroke-width="0.42">young versus protected</text>
<text transform="translate(1517.3,307.8)" font-size="20.7" text-anchor="end" textLength="27" lengthAdjust="spacingAndGlyphs" fill="#111" stroke="#111" stroke-width="0.42">7.2</text>
<text transform="translate(1541,307.8)" font-size="20.7" textLength="55.5" lengthAdjust="spacingAndGlyphs" fill="#111" stroke="#111" stroke-width="0.42">young</text>
<text transform="translate(1715.6,307.8)" font-size="20.7" textLength="61.6" lengthAdjust="spacingAndGlyphs" fill="#111" stroke="#111" stroke-width="0.42">p=0.02</text>
<text transform="translate(1826.7,307.8)" font-size="20.7" textLength="55.3" lengthAdjust="spacingAndGlyphs" fill="#111" stroke="#111" stroke-width="0.42">young</text>
<text transform="translate(979,339)" font-size="20.7" textLength="88" lengthAdjust="spacingAndGlyphs" fill="#111" stroke="#111" stroke-width="0.42">SNORD44</text>
<text transform="translate(1113.5,339)" font-size="20.7" textLength="214.5" lengthAdjust="spacingAndGlyphs" fill="#111" stroke="#111" stroke-width="0.42">young versus protected</text>
<text transform="translate(1517.3,339)" font-size="20.7" text-anchor="end" textLength="27.5" lengthAdjust="spacingAndGlyphs" fill="#111" stroke="#111" stroke-width="0.42">4.9</text>
<text transform="translate(1541,339)" font-size="20.7" textLength="55.5" lengthAdjust="spacingAndGlyphs" fill="#111" stroke="#111" stroke-width="0.42">young</text>
<text transform="translate(1715.6,339)" font-size="20.7" textLength="61.6" lengthAdjust="spacingAndGlyphs" fill="#111" stroke="#111" stroke-width="0.42">p=0.01</text>
<text transform="translate(1826.7,339)" font-size="20.7" textLength="55.3" lengthAdjust="spacingAndGlyphs" fill="#111" stroke="#111" stroke-width="0.42">young</text>
<text transform="translate(979,370.2)" font-size="20.7" textLength="88" lengthAdjust="spacingAndGlyphs" fill="#111" stroke="#111" stroke-width="0.42">SNORD44</text>
<text transform="translate(1113.5,370.2)" font-size="20.7" textLength="238" lengthAdjust="spacingAndGlyphs" fill="#111" stroke="#111" stroke-width="0.42">young versus unprotected</text>
<text transform="translate(1541,370.2)" font-size="20.7" textLength="128.3" lengthAdjust="spacingAndGlyphs" fill="#111" stroke="#111" stroke-width="0.42">not significant</text>
<text transform="translate(1715.6,370.2)" font-size="20.7" textLength="61.6" lengthAdjust="spacingAndGlyphs" fill="#111" stroke="#111" stroke-width="0.42">p=0.01</text>
<text transform="translate(1826.7,370.2)" font-size="20.7" textLength="55.3" lengthAdjust="spacingAndGlyphs" fill="#111" stroke="#111" stroke-width="0.42">young</text>
<text transform="translate(979,401.4)" font-size="20.7" textLength="88" lengthAdjust="spacingAndGlyphs" fill="#111" stroke="#111" stroke-width="0.42">SNORD95</text>
<text transform="translate(1113.5,401.4)" font-size="20.7" textLength="214.5" lengthAdjust="spacingAndGlyphs" fill="#111" stroke="#111" stroke-width="0.42">young versus protected</text>
<text transform="translate(1517.3,401.4)" font-size="20.7" text-anchor="end" textLength="9.9" lengthAdjust="spacingAndGlyphs" fill="#111" stroke="#111" stroke-width="0.42">8</text>
<text transform="translate(1541,401.4)" font-size="20.7" textLength="55.5" lengthAdjust="spacingAndGlyphs" fill="#111" stroke="#111" stroke-width="0.42">young</text>
<text transform="translate(1715.6,401.4)" font-size="20.7" textLength="73.4" lengthAdjust="spacingAndGlyphs" fill="#111" stroke="#111" stroke-width="0.42">p=0.002</text>
<text transform="translate(1826.7,401.4)" font-size="20.7" textLength="55.3" lengthAdjust="spacingAndGlyphs" fill="#111" stroke="#111" stroke-width="0.42">young</text>
<text transform="translate(979,432.6)" font-size="20.7" textLength="88" lengthAdjust="spacingAndGlyphs" fill="#111" stroke="#111" stroke-width="0.42">SNORD95</text>
<text transform="translate(1113.5,432.6)" font-size="20.7" textLength="238" lengthAdjust="spacingAndGlyphs" fill="#111" stroke="#111" stroke-width="0.42">young versus unprotected</text>
<text transform="translate(1541,432.6)" font-size="20.7" textLength="128.3" lengthAdjust="spacingAndGlyphs" fill="#111" stroke="#111" stroke-width="0.42">not significant</text>
<text transform="translate(1715.6,432.6)" font-size="20.7" textLength="73.4" lengthAdjust="spacingAndGlyphs" fill="#111" stroke="#111" stroke-width="0.42">p=0.003</text>
<text transform="translate(1826.7,432.6)" font-size="20.7" textLength="55.3" lengthAdjust="spacingAndGlyphs" fill="#111" stroke="#111" stroke-width="0.42">young</text>
<text transform="translate(979,463.8)" font-size="20.7" textLength="89" lengthAdjust="spacingAndGlyphs" fill="#111" stroke="#111" stroke-width="0.42">SNORD98</text>
<text transform="translate(1113.5,463.8)" font-size="20.7" textLength="214.5" lengthAdjust="spacingAndGlyphs" fill="#111" stroke="#111" stroke-width="0.42">young versus protected</text>
<text transform="translate(1517.3,463.8)" font-size="20.7" text-anchor="end" textLength="27.3" lengthAdjust="spacingAndGlyphs" fill="#111" stroke="#111" stroke-width="0.42">2.6</text>
<text transform="translate(1541,463.8)" font-size="20.7" textLength="55.5" lengthAdjust="spacingAndGlyphs" fill="#111" stroke="#111" stroke-width="0.42">young</text>
<text transform="translate(1715.6,463.8)" font-size="20.7" textLength="61.6" lengthAdjust="spacingAndGlyphs" fill="#111" stroke="#111" stroke-width="0.42">p=0.02</text>
<text transform="translate(1826.7,463.8)" font-size="20.7" textLength="55.3" lengthAdjust="spacingAndGlyphs" fill="#111" stroke="#111" stroke-width="0.42">young</text>
<text transform="translate(979,495)" font-size="20.7" textLength="89" lengthAdjust="spacingAndGlyphs" fill="#111" stroke="#111" stroke-width="0.42">SNORD98</text>
<text transform="translate(1113.5,495)" font-size="20.7" textLength="278" lengthAdjust="spacingAndGlyphs" fill="#111" stroke="#111" stroke-width="0.42" xml:space="preserve">protected  versus unprotected</text>
<text transform="translate(1541,495)" font-size="20.7" textLength="128.3" lengthAdjust="spacingAndGlyphs" fill="#111" stroke="#111" stroke-width="0.42">not significant</text>
<text transform="translate(1715.6,495)" font-size="20.7" textLength="73.4" lengthAdjust="spacingAndGlyphs" fill="#111" stroke="#111" stroke-width="0.42">p=0.004</text>
<text transform="translate(1826.7,495)" font-size="20.7" textLength="112.6" lengthAdjust="spacingAndGlyphs" fill="#111" stroke="#111" stroke-width="0.42">unprotected</text>
</g>
<g id="panelC">
<text transform="translate(3.5,556.5) scale(0.885,1)" font-size="46.3" font-weight="bold">C</text>
<text transform="translate(318.6,568.8)" font-size="37.3" textLength="409.5" lengthAdjust="spacingAndGlyphs" font-weight="bold">SnoRNA Gene Expression</text>
<text transform="translate(64.1,761.5) rotate(-90)" font-size="26.8" text-anchor="middle" textLength="356" lengthAdjust="spacingAndGlyphs" font-weight="bold">Relative Expression (Log10)</text>
<line x1="187.3" y1="678" x2="187.3" y2="688" stroke="#000" stroke-width="2.9"/>
<line x1="180.8" y1="678.6" x2="193.6" y2="678.6" stroke="#000" stroke-width="3.3"/>
<line x1="227" y1="649.5" x2="227" y2="656" stroke="#000" stroke-width="2.9"/>
<line x1="220.5" y1="650.1" x2="233.5" y2="650.1" stroke="#000" stroke-width="3.3"/>
<rect x="176.25" y="689.05" width="21.5" height="233.6" fill="#fff" stroke="#000" stroke-width="4.1"/>
<rect x="214.2" y="655" width="25.8" height="268.7" fill="#000"/>
<line x1="292.5" y1="654" x2="292.5" y2="659" stroke="#000" stroke-width="2.9"/>
<line x1="286" y1="654.6" x2="299" y2="654.6" stroke="#000" stroke-width="3.3"/>
<line x1="332" y1="668" x2="332" y2="672" stroke="#000" stroke-width="2.9"/>
<line x1="326" y1="668.6" x2="338.5" y2="668.6" stroke="#000" stroke-width="3.3"/>
<rect x="281.65" y="660.05" width="21.5" height="262.6" fill="#fff" stroke="#000" stroke-width="4.1"/>
<rect x="319.4" y="671" width="26" height="252.7" fill="#000"/>
<line x1="398" y1="804.5" x2="398" y2="815.7" stroke="#000" stroke-width="2.9"/>
<line x1="391.5" y1="805.1" x2="404.3" y2="805.1" stroke="#000" stroke-width="3.3"/>
<line x1="437.5" y1="752.5" x2="437.5" y2="761" stroke="#000" stroke-width="2.9"/>
<line x1="431" y1="753.1" x2="444" y2="753.1" stroke="#000" stroke-width="3.3"/>
<rect x="387.05" y="816.75" width="21.5" height="105.9" fill="#fff" stroke="#000" stroke-width="4.1"/>
<rect x="424.6" y="760" width="26.2" height="163.7" fill="#000"/>
<line x1="503" y1="685" x2="503" y2="692" stroke="#000" stroke-width="2.9"/>
<line x1="497" y1="685.6" x2="509.5" y2="685.6" stroke="#000" stroke-width="3.3"/>
<line x1="543" y1="668" x2="543" y2="672" stroke="#000" stroke-width="2.9"/>
<line x1="536.5" y1="668.6" x2="549.3" y2="668.6" stroke="#000" stroke-width="3.3"/>
<rect x="492.25" y="693.05" width="22.1" height="229.6" fill="#fff" stroke="#000" stroke-width="4.1"/>
<rect x="530" y="671" width="26.2" height="252.7" fill="#000"/>
<line x1="608.6" y1="824.6" x2="608.6" y2="829" stroke="#000" stroke-width="2.9"/>
<line x1="602" y1="825.2" x2="615" y2="825.2" stroke="#000" stroke-width="3.3"/>
<line x1="648" y1="883" x2="648" y2="889.7" stroke="#000" stroke-width="2.9"/>
<line x1="641.5" y1="883.6" x2="654.3" y2="883.6" stroke="#000" stroke-width="3.3"/>
<rect x="597.45" y="830.05" width="22.1" height="92.6" fill="#fff" stroke="#000" stroke-width="4.1"/>
<rect x="635.2" y="888.7" width="26" height="35" fill="#000"/>
<line x1="714" y1="746" x2="714" y2="758.5" stroke="#000" stroke-width="2.9"/>
<line x1="708" y1="746.6" x2="721" y2="746.6" stroke="#000" stroke-width="3.3"/>
<line x1="753.8" y1="847" x2="753.8" y2="862" stroke="#000" stroke-width="2.9"/>
<line x1="746.9" y1="847.6" x2="760.2" y2="847.6" stroke="#000" stroke-width="3.3"/>
<rect x="703.05" y="759.55" width="22.1" height="163.1" fill="#fff" stroke="#000" stroke-width="4.1"/>
<rect x="741" y="861" width="26" height="62.7" fill="#000"/>
<line x1="819.5" y1="743" x2="819.5" y2="751.5" stroke="#000" stroke-width="2.9"/>
<line x1="813" y1="743.6" x2="826" y2="743.6" stroke="#000" stroke-width="3.3"/>
<line x1="859" y1="764.5" x2="859" y2="775" stroke="#000" stroke-width="2.9"/>
<line x1="852.7" y1="765.1" x2="865.3" y2="765.1" stroke="#000" stroke-width="3.3"/>
<rect x="808.25" y="752.55" width="22.5" height="170.1" fill="#fff" stroke="#000" stroke-width="4.1"/>
<rect x="845.8" y="774" width="26.2" height="149.7" fill="#000"/>
<line x1="161" y1="598" x2="161" y2="925.3" stroke="#000" stroke-width="3"/>
<line x1="152" y1="923.7" x2="888.4" y2="923.7" stroke="#000" stroke-width="3.3"/>
<line x1="152" y1="599.6" x2="161" y2="599.6" stroke="#000" stroke-width="3"/>
<text transform="translate(147.7,608.5) scale(0.885,1)" font-size="25.2" text-anchor="end" font-weight="bold">10</text>
<line x1="152" y1="664.43" x2="161" y2="664.43" stroke="#000" stroke-width="3"/>
<text transform="translate(147.7,673.33) scale(0.885,1)" font-size="25.2" text-anchor="end" font-weight="bold">1</text>
<line x1="152" y1="729.26" x2="161" y2="729.26" stroke="#000" stroke-width="3"/>
<text transform="translate(147.7,738.16) scale(0.885,1)" font-size="25.2" text-anchor="end" font-weight="bold">0.1</text>
<line x1="152" y1="794.09" x2="161" y2="794.09" stroke="#000" stroke-width="3"/>
<text transform="translate(147.7,802.99) scale(0.885,1)" font-size="25.2" text-anchor="end" font-weight="bold">0.01</text>
<line x1="152" y1="858.92" x2="161" y2="858.92" stroke="#000" stroke-width="3"/>
<text transform="translate(147.7,867.82) scale(0.885,1)" font-size="25.2" text-anchor="end" font-weight="bold">0.001</text>
<line x1="152" y1="923.75" x2="161" y2="923.75" stroke="#000" stroke-width="3"/>
<text transform="translate(147.7,932.65) scale(0.885,1)" font-size="25.2" text-anchor="end" font-weight="bold">0.0001</text>
<line x1="206.6" y1="923.7" x2="206.6" y2="933.2" stroke="#000" stroke-width="3"/>
<text transform="translate(214.8,957.2) rotate(-45)" font-size="23.1" text-anchor="end" font-weight="bold">D116</text>
<line x1="311.95" y1="923.7" x2="311.95" y2="933.2" stroke="#000" stroke-width="3"/>
<text transform="translate(320.15,957.2) rotate(-45)" font-size="23.1" text-anchor="end" font-weight="bold">D96A</text>
<line x1="417.3" y1="923.7" x2="417.3" y2="933.2" stroke="#000" stroke-width="3"/>
<text transform="translate(425.5,957.2) rotate(-45)" font-size="23.1" text-anchor="end" font-weight="bold">D26</text>
<line x1="522.65" y1="923.7" x2="522.65" y2="933.2" stroke="#000" stroke-width="3"/>
<text transform="translate(530.85,957.2) rotate(-45)" font-size="23.1" text-anchor="end" font-weight="bold">D33</text>
<line x1="628" y1="923.7" x2="628" y2="933.2" stroke="#000" stroke-width="3"/>
<text transform="translate(636.2,957.2) rotate(-45)" font-size="23.1" text-anchor="end" font-weight="bold">D44</text>
<line x1="733.35" y1="923.7" x2="733.35" y2="933.2" stroke="#000" stroke-width="3"/>
<text transform="translate(741.55,957.2) rotate(-45)" font-size="23.1" text-anchor="end" font-weight="bold">D95</text>
<line x1="838.7" y1="923.7" x2="838.7" y2="933.2" stroke="#000" stroke-width="3"/>
<text transform="translate(846.9,957.2) rotate(-45)" font-size="23.1" text-anchor="end" font-weight="bold">D98</text>
<line x1="186" y1="635" x2="230.5" y2="635" stroke="#000" stroke-width="4.6"/>
<text transform="translate(208,636.7) scale(0.885,1)" font-size="35.4" text-anchor="middle" font-weight="bold">*</text>
<line x1="297" y1="635" x2="342" y2="635" stroke="#000" stroke-width="4.6"/>
<text transform="translate(317.5,636.7) scale(0.885,1)" font-size="35.4" text-anchor="middle" font-weight="bold">*</text>
<line x1="385" y1="632" x2="429" y2="632" stroke="#000" stroke-width="4.6"/>
<text transform="translate(407,633.7) scale(0.885,1)" font-size="35.4" text-anchor="middle" font-weight="bold">*</text>
<line x1="593" y1="630" x2="637" y2="630" stroke="#000" stroke-width="4.6"/>
<text transform="translate(617.2,631.7) scale(0.885,1)" font-size="35.4" text-anchor="middle" font-weight="bold" letter-spacing="2.4">**</text>
<rect x="738.8" y="603.3" width="40.9" height="21.7" fill="#fff" stroke="#000" stroke-width="2.6"/>
<text transform="translate(783.8,622.8)" font-size="28" textLength="83" lengthAdjust="spacingAndGlyphs">Healthy</text>
<rect x="739" y="645" width="43.5" height="26" fill="#000"/>
<text transform="translate(783.2,665.8)" font-size="28" textLength="35.5" lengthAdjust="spacingAndGlyphs">OA</text>
</g>
<g id="panelD">
<text transform="translate(1033.4,570.9) scale(0.93,1)" font-size="43.2" font-weight="bold">D</text>
<text transform="translate(1267.8,566.6)" font-size="33.6" textLength="464" lengthAdjust="spacingAndGlyphs" font-weight="bold">Phenotypic Gene Expression</text>
<text transform="translate(1103.5,759.5) rotate(-90)" font-size="27" text-anchor="middle" textLength="239" lengthAdjust="spacingAndGlyphs" font-weight="bold">Relative expression</text>
<line x1="1181.4" y1="841.8" x2="1181.4" y2="847.4" stroke="#000" stroke-width="4.3"/>
<line x1="1175.6" y1="843" x2="1187.7" y2="843" stroke="#000" stroke-width="5.2"/>
<line x1="1222.4" y1="872" x2="1222.4" y2="889.7" stroke="#000" stroke-width="4.3"/>
<line x1="1215.6" y1="873.2" x2="1228.8" y2="873.2" stroke="#000" stroke-width="5.2"/>
<rect x="1171.1" y="848.5" width="21.8" height="81.6" fill="#fff" stroke="#000" stroke-width="4.2"/>
<rect x="1208.8" y="888.7" width="26.6" height="42.3" fill="#000"/>
<line x1="1289" y1="838" x2="1289" y2="847.4" stroke="#000" stroke-width="4.3"/>
<line x1="1282.8" y1="839.2" x2="1295.4" y2="839.2" stroke="#000" stroke-width="5.2"/>
<line x1="1329" y1="901.4" x2="1329" y2="906" stroke="#000" stroke-width="4.3"/>
<line x1="1322.8" y1="902.6" x2="1336" y2="902.6" stroke="#000" stroke-width="5.2"/>
<rect x="1278.5" y="848.5" width="21.6" height="81.6" fill="#fff" stroke="#000" stroke-width="4.2"/>
<rect x="1315.7" y="905" width="27.1" height="26" fill="#000"/>
<line x1="1396.3" y1="833.7" x2="1396.3" y2="847.4" stroke="#000" stroke-width="4.3"/>
<line x1="1389.7" y1="834.9" x2="1402.6" y2="834.9" stroke="#000" stroke-width="5.2"/>
<line x1="1436.6" y1="878.6" x2="1436.6" y2="893.5" stroke="#000" stroke-width="4.3"/>
<line x1="1429.7" y1="879.8" x2="1443" y2="879.8" stroke="#000" stroke-width="5.2"/>
<rect x="1385.5" y="848.5" width="21.9" height="81.6" fill="#fff" stroke="#000" stroke-width="4.2"/>
<rect x="1423.4" y="892.5" width="26.6" height="38.5" fill="#000"/>
<line x1="1503.3" y1="823" x2="1503.3" y2="848" stroke="#000" stroke-width="4.3"/>
<line x1="1496.7" y1="824.2" x2="1509.6" y2="824.2" stroke="#000" stroke-width="5.2"/>
<line x1="1543.4" y1="670.6" x2="1543.4" y2="717.5" stroke="#000" stroke-width="4.3"/>
<line x1="1536.5" y1="671.8" x2="1550.3" y2="671.8" stroke="#000" stroke-width="5.2"/>
<rect x="1492.5" y="849.1" width="22.4" height="81" fill="#fff" stroke="#000" stroke-width="4.2"/>
<rect x="1530.8" y="716.5" width="26.1" height="214.5" fill="#000"/>
<line x1="1610.5" y1="819" x2="1610.5" y2="848" stroke="#000" stroke-width="4.3"/>
<line x1="1604" y1="820.2" x2="1616.8" y2="820.2" stroke="#000" stroke-width="5.2"/>
<line x1="1650.6" y1="658.8" x2="1650.6" y2="709.3" stroke="#000" stroke-width="4.3"/>
<line x1="1643.8" y1="660" x2="1657.5" y2="660" stroke="#000" stroke-width="5.2"/>
<rect x="1599.1" y="849.1" width="22.5" height="81" fill="#fff" stroke="#000" stroke-width="4.2"/>
<rect x="1637.4" y="708.3" width="26.6" height="222.7" fill="#000"/>
<line x1="1717" y1="836.5" x2="1717" y2="847" stroke="#000" stroke-width="4.3"/>
<line x1="1710.8" y1="837.7" x2="1723.5" y2="837.7" stroke="#000" stroke-width="5.2"/>
<line x1="1757.6" y1="756.4" x2="1757.6" y2="776" stroke="#000" stroke-width="4.3"/>
<line x1="1750.7" y1="757.6" x2="1764.4" y2="757.6" stroke="#000" stroke-width="5.2"/>
<rect x="1706.3" y="848.1" width="22.6" height="82" fill="#fff" stroke="#000" stroke-width="4.2"/>
<rect x="1744.6" y="775" width="26.7" height="156" fill="#000"/>
<line x1="1824.4" y1="833" x2="1824.4" y2="847" stroke="#000" stroke-width="4.3"/>
<line x1="1818" y1="834.2" x2="1830.7" y2="834.2" stroke="#000" stroke-width="5.2"/>
<line x1="1864.8" y1="634" x2="1864.8" y2="681" stroke="#000" stroke-width="4.3"/>
<line x1="1858" y1="635.2" x2="1871" y2="635.2" stroke="#000" stroke-width="5.2"/>
<rect x="1813.3" y="848.1" width="22.6" height="82" fill="#fff" stroke="#000" stroke-width="4.2"/>
<rect x="1851.9" y="680" width="26.6" height="251" fill="#000"/>
<line x1="1148.5" y1="589.3" x2="1148.5" y2="932.8" stroke="#000" stroke-width="3.1"/>
<line x1="1138.3" y1="931" x2="1901.9" y2="931" stroke="#000" stroke-width="3.6"/>
<line x1="1138.8" y1="591.1" x2="1148.5" y2="591.1" stroke="#000" stroke-width="3.5"/>
<text transform="translate(1135,600.3)" font-size="26.2" text-anchor="end" font-weight="bold">4</text>
<line x1="1138.8" y1="676.1" x2="1148.5" y2="676.1" stroke="#000" stroke-width="3.5"/>
<text transform="translate(1135,685.3)" font-size="26.2" text-anchor="end" font-weight="bold">3</text>
<line x1="1138.8" y1="761.1" x2="1148.5" y2="761.1" stroke="#000" stroke-width="3.5"/>
<text transform="translate(1135,770.3)" font-size="26.2" text-anchor="end" font-weight="bold">2</text>
<line x1="1138.8" y1="846.1" x2="1148.5" y2="846.1" stroke="#000" stroke-width="3.5"/>
<text transform="translate(1135,855.3)" font-size="26.2" text-anchor="end" font-weight="bold">1</text>
<line x1="1138.8" y1="931.1" x2="1148.5" y2="931.1" stroke="#000" stroke-width="3.5"/>
<text transform="translate(1135,940.3)" font-size="26.2" text-anchor="end" font-weight="bold">0</text>
<line x1="1201.7" y1="931" x2="1201.7" y2="941" stroke="#000" stroke-width="3.4"/>
<text transform="translate(1209.9,967) rotate(-45)" font-size="25.3" text-anchor="end" font-weight="bold">COL2A1</text>
<line x1="1308.78" y1="931" x2="1308.78" y2="941" stroke="#000" stroke-width="3.4"/>
<text transform="translate(1316.98,967) rotate(-45)" font-size="25.3" text-anchor="end" font-weight="bold">ACAN</text>
<line x1="1415.86" y1="931" x2="1415.86" y2="941" stroke="#000" stroke-width="3.4"/>
<text transform="translate(1424.06,967) rotate(-45)" font-size="25.3" text-anchor="end" font-weight="bold">SOX9</text>
<line x1="1522.94" y1="931" x2="1522.94" y2="941" stroke="#000" stroke-width="3.4"/>
<text transform="translate(1531.14,967) rotate(-45)" font-size="25.3" text-anchor="end" font-weight="bold">COL10A1</text>
<line x1="1630.02" y1="931" x2="1630.02" y2="941" stroke="#000" stroke-width="3.4"/>
<text transform="translate(1638.22,967) rotate(-45)" font-size="25.3" text-anchor="end" font-weight="bold">RUNX2</text>
<line x1="1737.1" y1="931" x2="1737.1" y2="941" stroke="#000" stroke-width="3.4"/>
<text transform="translate(1745.3,967) rotate(-45)" font-size="25.3" text-anchor="end" font-weight="bold">MMP13</text>
<line x1="1844.18" y1="931" x2="1844.18" y2="941" stroke="#000" stroke-width="3.4"/>
<text transform="translate(1852.38,967) rotate(-45)" font-size="25.3" text-anchor="end" font-weight="bold">COX-2</text>
<line x1="1173" y1="795.7" x2="1221" y2="795.7" stroke="#000" stroke-width="5"/>
<text transform="translate(1197,796.7)" font-size="35" text-anchor="middle" font-weight="bold">*</text>
<line x1="1285.3" y1="794" x2="1333" y2="794" stroke="#000" stroke-width="5"/>
<text transform="translate(1309,795)" font-size="35" text-anchor="middle" font-weight="bold">*</text>
<line x1="1393.5" y1="791" x2="1441.7" y2="791" stroke="#000" stroke-width="5"/>
<text transform="translate(1417.5,792)" font-size="35" text-anchor="middle" font-weight="bold">*</text>
<line x1="1497.8" y1="654.7" x2="1546.2" y2="654.7" stroke="#000" stroke-width="5"/>
<text transform="translate(1520.6,655.7)" font-size="35" text-anchor="middle" font-weight="bold">*</text>
<line x1="1609.4" y1="638.2" x2="1658" y2="638.2" stroke="#000" stroke-width="5"/>
<text transform="translate(1632.2,639.2)" font-size="35" text-anchor="middle" font-weight="bold">*</text>
<line x1="1713.9" y1="724.3" x2="1762.5" y2="724.3" stroke="#000" stroke-width="5"/>
<text transform="translate(1740,725.3)" font-size="35" text-anchor="middle" font-weight="bold" letter-spacing="2.8">**</text>
<line x1="1817.5" y1="624.5" x2="1865.6" y2="624.5" stroke="#000" stroke-width="5"/>
<text transform="translate(1842.8,625.5)" font-size="35" text-anchor="middle" font-weight="bold" letter-spacing="2.8">**</text>
<rect x="1186.7" y="615.8" width="46.7" height="23.6" fill="#fff" stroke="#000" stroke-width="3.4"/>
<text transform="translate(1238.1,636.5)" font-size="28.9" textLength="93" lengthAdjust="spacingAndGlyphs">Healthy</text>
<rect x="1186.9" y="660.1" width="49.5" height="27.1" fill="#000"/>
<text transform="translate(1238.3,682.3)" font-size="28.9" textLength="39.5" lengthAdjust="spacingAndGlyphs">OA</text>
</g>
</svg></body></html>
